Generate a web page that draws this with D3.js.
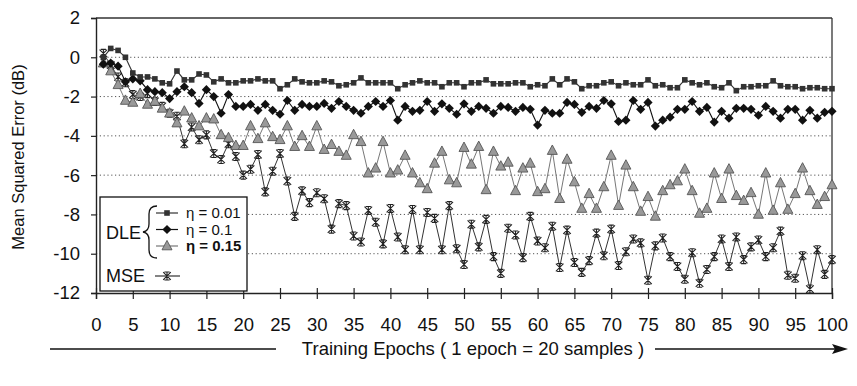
<!DOCTYPE html>
<html><head><meta charset="utf-8">
<script src="https://cdn.jsdelivr.net/npm/d3@7"></script>
<style>body{margin:0;background:#fff}svg{display:block}text{font-family:"Liberation Sans",Arial,sans-serif;fill:#111}</style>
</head><body><svg id="c" width="857" height="386"></svg>
<script>
const epochs = d3.range(1, 101);
const xTicks = d3.range(0, 101, 5);
const yTicks = [2, 0, -2, -4, -6, -8, -10, -12];
const gridValues = [0, -2, -4, -6, -8, -10];
const seriesNames = ["η = 0.01", "η = 0.1", "η = 0.15", "MSE"];
const dle001 = [0.0,0.45,0.35,0.0,-0.8,-1.0,-1.0,-1.1,-1.3,-1.35,
-0.7,-1.15,-1.15,-0.85,-0.9,-1.25,-1.1,-1.3,-1.3,-1.2,
-1.2,-1.1,-1.2,-1.2,-1.6,-1.4,-1.1,-1.25,-1.3,-1.3,
-1.2,-1.25,-1.45,-1.4,-1.3,-1.05,-1.3,-1.3,-1.3,-1.3,
-1.6,-1.4,-1.3,-1.2,-1.3,-1.3,-1.5,-1.3,-1.3,-1.5,
-1.3,-1.3,-1.15,-1.35,-1.35,-1.35,-1.3,-1.3,-1.5,-1.4,
-1.45,-1.1,-1.4,-1.1,-1.25,-1.6,-1.45,-1.45,-1.3,-1.25,
-1.45,-1.3,-1.4,-1.4,-1.15,-1.45,-1.4,-1.55,-1.55,-1.15,
-1.3,-1.4,-1.3,-1.5,-1.55,-1.3,-1.7,-1.5,-1.5,-1.45,
-1.45,-1.2,-1.45,-1.5,-1.5,-1.6,-1.55,-1.55,-1.6,-1.6];
const dle01 = [-0.35,-0.3,-0.45,-1.25,-1.1,-1.2,-1.65,-1.75,-1.8,-2.1,
-1.75,-1.5,-1.8,-2.35,-1.65,-2.0,-2.85,-1.9,-2.5,-2.5,
-2.4,-2.7,-2.4,-2.7,-2.9,-2.2,-2.7,-2.4,-2.5,-2.5,
-2.35,-2.6,-2.25,-2.5,-2.7,-2.85,-2.5,-2.25,-2.5,-2.2,
-3.2,-2.5,-2.75,-2.7,-2.25,-2.75,-2.37,-2.6,-2.9,-2.37,
-2.75,-2.5,-2.6,-2.85,-2.5,-2.55,-2.75,-2.55,-2.65,-3.45,
-2.7,-2.85,-2.85,-2.3,-2.4,-2.8,-2.5,-2.6,-2.2,-2.37,
-3.27,-3.2,-2.2,-2.65,-2.3,-3.5,-3.2,-3.05,-2.65,-2.65,
-2.25,-2.75,-2.55,-3.3,-2.75,-3.1,-2.6,-2.6,-2.65,-2.95,
-2.5,-2.75,-3.1,-2.65,-2.65,-3.2,-2.7,-3.1,-2.8,-2.75];
const dle015 = [-0.3,-0.7,-1.4,-2.2,-2.3,-1.85,-2.4,-2.25,-2.6,-2.85,
-3.35,-2.75,-3.1,-3.5,-3.1,-3.15,-3.95,-4.1,-4.5,-4.5,
-3.5,-4.15,-3.35,-4.05,-4.2,-3.5,-4.55,-4.0,-4.55,-3.5,
-4.7,-4.45,-4.8,-5.0,-3.95,-4.3,-5.9,-5.65,-4.3,-5.9,
-5.75,-5.0,-5.9,-6.4,-6.7,-5.4,-4.8,-6.25,-6.4,-4.6,
-5.45,-4.55,-6.75,-4.8,-5.55,-5.35,-6.8,-5.65,-5.4,-6.85,
-6.7,-4.75,-7.2,-5.2,-6.35,-7.7,-6.95,-7.7,-6.6,-5.0,
-7.55,-5.5,-6.6,-7.85,-7.1,-8.1,-6.8,-6.5,-6.3,-5.7,
-6.8,-7.95,-7.7,-5.9,-7.2,-5.7,-7.05,-7.3,-6.9,-8.0,
-5.9,-7.8,-6.4,-7.75,-6.95,-5.65,-6.8,-7.5,-7.1,-6.5];
const mse = [0.2,-0.4,-1.0,-1.3,-1.9,-2.0,-1.85,-2.25,-2.5,-2.85,
-3.0,-4.4,-3.55,-4.2,-3.95,-4.9,-5.2,-4.4,-5.05,-6.0,
-5.7,-4.95,-6.85,-5.8,-4.9,-6.3,-8.1,-6.8,-7.4,-6.9,
-7.2,-8.75,-7.45,-7.55,-9.1,-9.4,-7.8,-8.4,-9.5,-7.7,
-9.15,-9.8,-7.75,-9.8,-7.9,-8.2,-9.8,-7.55,-9.75,-10.55,
-8.5,-9.65,-8.25,-10.15,-11.0,-8.7,-9.05,-10.2,-8.1,-9.35,
-9.7,-8.6,-10.7,-8.8,-10.45,-10.95,-10.35,-8.95,-10.1,-8.75,
-10.6,-9.9,-9.25,-9.45,-11.35,-9.6,-9.2,-10.15,-10.65,-11.3,
-9.95,-11.5,-10.8,-10.15,-9.25,-10.65,-9.15,-10.3,-9.65,-9.3,
-10.15,-9.7,-8.85,-11.1,-11.25,-10.1,-11.8,-9.8,-11.05,-10.3];

const svg = d3.select("#c");
const L = 96, R = 832, T = 18, B = 293;
const x = d3.scaleLinear().domain([0, 100]).range([L, R]);
const y = d3.scaleLinear().domain([-12, 2]).range([B, T]);

svg.append("g").selectAll("line").data(gridValues).join("line")
  .attr("x1", L).attr("x2", R).attr("y1", d => y(d)).attr("y2", d => y(d))
  .attr("stroke", "#555").attr("stroke-width", 1).attr("stroke-dasharray", "1.2,2.6");

svg.append("line").attr("x1", L).attr("x2", R).attr("y1", T).attr("y2", T).attr("stroke", "#333").attr("stroke-width", 1.3);
svg.append("line").attr("x1", R).attr("x2", R).attr("y1", T).attr("y2", B).attr("stroke", "#333").attr("stroke-width", 1.3);

const gx = svg.append("g").attr("transform", `translate(0,${B})`)
  .call(d3.axisBottom(x).tickValues(xTicks).tickSize(6).tickPadding(19).tickFormat(d3.format("d")));
gx.selectAll(".tick line").attr("y1", -5).attr("y2", 6);
const gy = svg.append("g").attr("transform", `translate(${L},0)`)
  .call(d3.axisLeft(y).tickValues(yTicks).tickSize(5).tickPadding(11).tickFormat(d => d < 0 ? "-" + Math.abs(d) : d));
[gx, gy].forEach(g => {
  g.select(".domain").attr("stroke", "#222").attr("stroke-width", 1.4);
  g.selectAll(".tick line").attr("stroke", "#222").attr("stroke-width", 1.2);
  g.selectAll(".tick text").attr("font-size", 18.5).attr("font-family", "Liberation Sans, Arial, sans-serif").attr("fill", "#111");
});

svg.append("text").attr("transform", "translate(18,157) rotate(-90)").attr("text-anchor", "middle").attr("dy", "0.35em")
  .attr("font-size", 16.5).text("Mean Squared Error (dB)");
svg.append("text").attr("x", 473).attr("y", 355).attr("text-anchor", "middle")
  .attr("font-size", 18.5).text("Training Epochs ( 1 epoch = 20 samples )");
svg.append("line").attr("x1", 50).attr("x2", 276).attr("y1", 349).attr("y2", 349).attr("stroke", "#111").attr("stroke-width", 1.3);
svg.append("line").attr("x1", 655).attr("x2", 840).attr("y1", 349).attr("y2", 349).attr("stroke", "#111").attr("stroke-width", 1.3);
svg.append("path").attr("d", "M832,344 L848,349 L832,354 L835,349 Z").attr("fill", "#111");

function drawMarker(g, type, cx, cy) {
  if (type === "square") g.append("rect").attr("x", cx - 2.8).attr("y", cy - 2.8).attr("width", 5.6).attr("height", 5.6).attr("fill", "#333");
  else if (type === "diamond") g.append("path").attr("d", `M${cx},${cy-4.6}L${cx+4.6},${cy}L${cx},${cy+4.6}L${cx-4.6},${cy}Z`).attr("fill", "#111");
  else if (type === "triangle") g.append("path").attr("d", `M${cx},${cy-5.6}L${cx+5},${cy+3.8}L${cx-5},${cy+3.8}Z`).attr("fill", "#999").attr("stroke", "#555").attr("stroke-width", 0.9);
  else if (type === "star") g.append("path").attr("d", `M${cx-3.8},${cy-3.8}L${cx+3.8},${cy+3.8}M${cx+3.8},${cy-3.8}L${cx-3.8},${cy+3.8}M${cx-2.6},${cy-4}L${cx+2.6},${cy-4}M${cx-2.6},${cy+4}L${cx+2.6},${cy+4}M${cx},${cy-4}L${cx},${cy+4}`).attr("stroke", "#222").attr("stroke-width", 1.1).attr("fill", "none");
}
const series = [
  {vals: mse, type: "star", color: "#333", w: 1},
  {vals: dle015, type: "triangle", color: "#777", w: 1},
  {vals: dle01, type: "diamond", color: "#111", w: 1.1},
  {vals: dle001, type: "square", color: "#333", w: 1.1}
];
const line = d3.line().x(d => x(d[0])).y(d => y(d[1]));
series.forEach(s => {
  const pts = epochs.map((e, i) => [e, s.vals[i]]);
  const g = svg.append("g");
  g.append("path").attr("d", line(pts)).attr("fill", "none").attr("stroke", s.color).attr("stroke-width", s.w);
  pts.forEach(p => drawMarker(g, s.type, x(p[0]), y(p[1])));
});

const lg = svg.append("g");
lg.append("rect").attr("x", 100).attr("y", 197).attr("width", 147).attr("height", 94).attr("fill", "#fff").attr("stroke", "#111").attr("stroke-width", 1.3);
lg.append("text").attr("x", 106).attr("y", 239).attr("font-size", 18).text("DLE");
lg.append("path").attr("d", "M157,206 Q149,206 149,214 L149,224 Q149,231 143,232 Q149,233 149,240 L149,250 Q149,258 157,258")
  .attr("fill", "none").attr("stroke", "#111").attr("stroke-width", 1.3);
const rows = [{t: seriesNames[0], type: "square", y: 213, c: "#333", bold: false},
              {t: seriesNames[1], type: "diamond", y: 229.5, c: "#111", bold: false},
              {t: seriesNames[2], type: "triangle", y: 246, c: "#777", bold: true}];
rows.forEach(r => {
  lg.append("line").attr("x1", 156).attr("x2", 178).attr("y1", r.y).attr("y2", r.y).attr("stroke", r.c).attr("stroke-width", 1.2);
  drawMarker(lg, r.type, 167, r.y);
  lg.append("text").attr("x", 186).attr("y", r.y + 5).attr("font-size", 15).attr("font-weight", r.bold ? "bold" : "normal").text(r.t);
});
lg.append("text").attr("x", 106).attr("y", 282).attr("font-size", 18).text(seriesNames[3]);
lg.append("line").attr("x1", 155).attr("x2", 180).attr("y1", 276).attr("y2", 276).attr("stroke", "#333").attr("stroke-width", 1.2);
drawMarker(lg, "star", 167, 276);
</script></body></html>
